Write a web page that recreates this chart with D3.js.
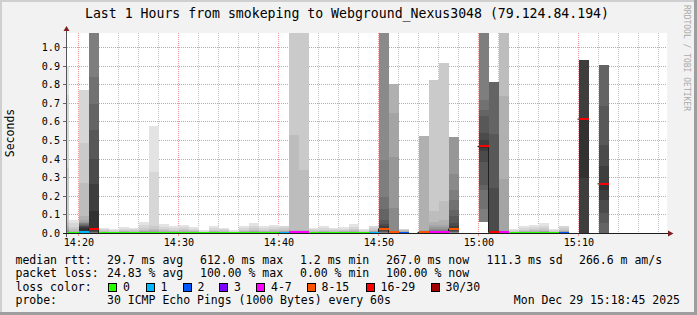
<!DOCTYPE html>
<html>
<head>
<meta charset="utf-8">
<script src="https://cdn.jsdelivr.net/npm/d3@7"></script>
<style>
    body { margin: 0; background: #f2f2f2; }
    svg { display: block; font-family: "DejaVu Sans Mono", monospace; }
</style>
</head>
<body>
<div id="chart"></div>
<script>

// graph window (last hour)
var timeStart = "2025-12-29 14:18:48";
var timeEnd = "2025-12-29 15:18:48";
var day = "2025-12-29";

// one rrd step per minute
var stepTimes = ["14:18", "14:19", "14:20", "14:21", "14:22", "14:23", "14:24", "14:25", "14:26", "14:27",
    "14:28", "14:29", "14:30", "14:31", "14:32", "14:33", "14:34", "14:35", "14:36", "14:37",
    "14:38", "14:39", "14:40", "14:41", "14:42", "14:43", "14:44", "14:45", "14:46", "14:47",
    "14:48", "14:49", "14:50", "14:51", "14:52", "14:53", "14:54", "14:55", "14:56", "14:57",
    "14:58", "14:59", "15:00", "15:01", "15:02", "15:03", "15:04", "15:05", "15:06", "15:07",
    "15:08", "15:09", "15:10", "15:11", "15:12", "15:13", "15:14", "15:15", "15:16", "15:17", "15:18"];

// lost pings out of 30 per step
var loss = [0, 0, 1, 16, 0, 0, 0, 0, 0, 0,
    0, 0, 0, 0, 0, 0, 0, 0, 0, 0,
    0, 0, 1, 4, 4, 0, 0, 0, 0, 0,
    0, 1, 14, 8, 2, 30, 8, 4, 4, 12,
    30, 30, 16, 20, 6, 0, 0, 0, 0, 0,
    2, 30, 26, 30, 20, 30, 30, 30, 30, 30, 30];

// median rtt per step (ms)
var median = [2, 2, 3, 23, 2, 2, 2, 2, 2, 2,
    2, 2, 2, 2, 2, 2, 2, 2, 2, 2,
    2, 2, 2, 3, 3, 2, 2, 2, 2, 2,
    2, 2, 23, 3, 2, null, 3, 3, 3, 22,
    null, null, 465, 3, 3, 2, 2, 2, 2, 2,
    2, null, 612, null, 264, null, null, null, null, null, null];

// received pings per step, sorted (ms); 2000 = above graph top
var pings = [
    [1, 1, 1, 1, 1, 1, 1, 1, 1, 1, 1, 1, 2, 2, 2, 2, 2, 3, 3, 4, 5, 7, 10, 15, 22, 35, 60, 350, 740, 900],
    [1, 1, 1, 1, 1, 1, 1, 1, 1, 1, 1, 2, 2, 2, 2, 2, 2, 2, 3, 3, 3, 4, 5, 6, 8, 12, 20, 34, 52, 70],
    [1, 1, 1, 1, 1, 1, 1, 2, 2, 2, 2, 2, 2, 3, 3, 25, 30, 35, 40, 45, 50, 52, 55, 58, 70, 90, 270, 483, 770],
    [1, 2, 3, 5, 8, 12, 18, 118, 264, 400, 555, 695, 840, 2000],
    [1, 1, 1, 1, 1, 1, 1, 1, 1, 1, 1, 2, 2, 2, 2, 2, 2, 2, 3, 3, 3, 4, 4, 5, 6, 8, 10, 14, 20, 27],
    [1, 1, 1, 1, 1, 1, 1, 1, 1, 1, 1, 2, 2, 2, 2, 2, 2, 2, 2, 3, 3, 3, 4, 4, 5, 6, 8, 10, 14, 20],
    [1, 1, 1, 1, 1, 1, 1, 1, 1, 1, 1, 2, 2, 2, 2, 2, 2, 2, 3, 3, 3, 4, 5, 6, 7, 9, 12, 17, 24, 32],
    [1, 1, 1, 1, 1, 1, 1, 1, 1, 1, 1, 2, 2, 2, 2, 2, 2, 2, 3, 3, 3, 4, 4, 5, 6, 8, 11, 15, 20, 27],
    [1, 1, 1, 1, 1, 1, 1, 1, 1, 1, 1, 2, 2, 2, 2, 2, 2, 2, 3, 3, 4, 5, 6, 7, 9, 12, 18, 28, 42, 60],
    [1, 1, 1, 1, 1, 1, 1, 1, 1, 1, 1, 2, 2, 2, 2, 2, 2, 2, 3, 3, 4, 5, 6, 8, 10, 14, 20, 35, 330, 576],
    [1, 1, 1, 1, 1, 1, 1, 1, 1, 1, 1, 2, 2, 2, 2, 2, 2, 2, 3, 3, 4, 4, 5, 6, 8, 11, 15, 22, 33, 48],
    [1, 1, 1, 1, 1, 1, 1, 1, 1, 1, 1, 2, 2, 2, 2, 2, 2, 2, 3, 3, 3, 4, 5, 6, 7, 9, 13, 18, 27, 38],
    [1, 1, 1, 1, 1, 1, 1, 1, 1, 1, 1, 2, 2, 2, 2, 2, 2, 2, 3, 3, 3, 4, 5, 6, 8, 10, 14, 20, 30, 43],
    [1, 1, 1, 1, 1, 1, 1, 1, 1, 1, 1, 2, 2, 2, 2, 2, 2, 2, 3, 3, 3, 4, 5, 6, 7, 9, 12, 17, 24, 32],
    [1, 1, 1, 1, 1, 1, 1, 1, 1, 1, 1, 2, 2, 2, 2, 2, 2, 2, 2, 2, 3, 3, 3, 4, 4, 5, 6, 8, 11, 16],
    [1, 1, 1, 1, 1, 1, 1, 1, 1, 1, 1, 2, 2, 2, 2, 2, 2, 2, 3, 3, 3, 4, 5, 6, 7, 9, 13, 18, 27, 38],
    [1, 1, 1, 1, 1, 1, 1, 1, 1, 1, 1, 2, 2, 2, 2, 2, 2, 2, 3, 3, 3, 4, 4, 5, 6, 8, 11, 15, 20, 27],
    [1, 1, 1, 1, 1, 1, 1, 1, 1, 1, 1, 2, 2, 2, 2, 2, 2, 2, 2, 2, 3, 3, 3, 4, 4, 5, 6, 8, 11, 16],
    [1, 1, 1, 1, 1, 1, 1, 1, 1, 1, 1, 2, 2, 2, 2, 2, 2, 2, 3, 3, 3, 4, 5, 6, 7, 9, 13, 18, 27, 38],
    [1, 1, 1, 1, 1, 1, 1, 1, 1, 1, 1, 2, 2, 2, 2, 2, 2, 2, 3, 3, 4, 5, 6, 7, 9, 12, 17, 25, 38, 54],
    [1, 1, 1, 1, 1, 1, 1, 1, 1, 1, 1, 2, 2, 2, 2, 2, 2, 2, 3, 3, 3, 4, 5, 6, 7, 9, 13, 18, 27, 38],
    [1, 1, 1, 1, 1, 1, 1, 1, 1, 1, 1, 2, 2, 2, 2, 2, 2, 2, 3, 3, 3, 4, 5, 6, 8, 10, 14, 20, 30, 43],
    [1, 1, 1, 1, 1, 1, 1, 1, 1, 1, 1, 2, 2, 2, 2, 2, 2, 3, 3, 3, 4, 5, 6, 7, 9, 13, 18, 27, 38],
    [1, 1, 1, 1, 1, 1, 2, 2, 2, 2, 2, 2, 3, 3, 4, 4, 5, 5, 6, 7, 8, 10, 12, 15, 528, 2000],
    [1, 1, 1, 1, 1, 1, 2, 2, 2, 2, 2, 2, 3, 3, 4, 4, 5, 5, 6, 7, 8, 10, 12, 15, 340, 2000],
    [1, 1, 1, 1, 1, 1, 1, 1, 1, 1, 1, 2, 2, 2, 2, 2, 2, 2, 3, 3, 3, 4, 4, 5, 6, 8, 11, 15, 20, 27],
    [1, 1, 1, 1, 1, 1, 1, 1, 1, 1, 1, 2, 2, 2, 2, 2, 2, 2, 3, 3, 3, 4, 5, 6, 7, 9, 13, 18, 27, 38],
    [1, 1, 1, 1, 1, 1, 1, 1, 1, 1, 1, 2, 2, 2, 2, 2, 2, 2, 3, 3, 3, 4, 4, 5, 6, 8, 11, 15, 20, 27],
    [1, 1, 1, 1, 1, 1, 1, 1, 1, 1, 1, 2, 2, 2, 2, 2, 2, 2, 3, 3, 3, 4, 5, 6, 7, 9, 12, 17, 24, 32],
    [1, 1, 1, 1, 1, 1, 1, 1, 1, 1, 1, 2, 2, 2, 2, 2, 2, 2, 3, 3, 4, 4, 5, 6, 8, 11, 15, 22, 33, 48],
    [1, 1, 1, 1, 1, 1, 1, 1, 1, 1, 1, 2, 2, 2, 2, 2, 2, 2, 2, 3, 3, 3, 4, 4, 5, 6, 8, 11, 15, 22],
    [1, 1, 1, 1, 1, 1, 1, 1, 1, 1, 1, 2, 2, 2, 2, 2, 2, 3, 3, 3, 4, 5, 6, 7, 9, 13, 18, 27, 38],
    [1, 2, 3, 5, 8, 12, 15, 20, 25, 35, 50, 70, 130, 196, 393, 2000],
    [1, 1, 1, 1, 1, 2, 2, 2, 2, 3, 3, 3, 4, 5, 6, 8, 10, 12, 135, 410, 646, 800],
    [1, 1, 1, 1, 1, 1, 1, 1, 1, 1, 2, 2, 2, 2, 2, 2, 2, 3, 3, 3, 4, 5, 6, 8, 11, 15, 18, 22],
    [],
    [1, 1, 1, 1, 1, 2, 2, 2, 2, 3, 3, 3, 4, 4, 5, 5, 6, 7, 8, 10, 14, 522],
    [1, 1, 1, 1, 1, 2, 2, 2, 2, 2, 2, 3, 3, 3, 4, 5, 6, 8, 10, 14, 20, 30, 45, 60, 118, 824],
    [1, 1, 1, 1, 1, 2, 2, 2, 2, 2, 2, 3, 3, 3, 4, 5, 6, 8, 10, 14, 20, 30, 45, 70, 172, 916],
    [1, 2, 3, 4, 6, 8, 10, 14, 18, 25, 35, 52, 90, 124, 178, 232, 318, 517],
    [],
    [],
    [59, 129, 232, 258, 384, 440, 455, 470, 500, 540, 630, 662, 713, 2000],
    [1, 1, 2, 2, 3, 3, 5, 242, 533, 813],
    [1, 1, 1, 1, 1, 2, 2, 2, 2, 2, 3, 3, 3, 4, 4, 5, 6, 7, 8, 10, 12, 290, 738, 2000],
    [1, 1, 1, 1, 1, 1, 1, 1, 1, 1, 1, 2, 2, 2, 2, 2, 2, 2, 2, 3, 3, 3, 4, 4, 5, 6, 8, 11, 15, 22],
    [1, 1, 1, 1, 1, 1, 1, 1, 1, 1, 1, 2, 2, 2, 2, 2, 2, 2, 3, 3, 3, 4, 5, 6, 7, 9, 13, 18, 27, 38],
    [1, 1, 1, 1, 1, 1, 1, 1, 1, 1, 1, 2, 2, 2, 2, 2, 2, 2, 3, 3, 3, 4, 5, 6, 8, 10, 14, 20, 30, 43],
    [1, 1, 1, 1, 1, 1, 1, 1, 1, 1, 1, 2, 2, 2, 2, 2, 2, 2, 3, 3, 4, 5, 6, 7, 9, 12, 17, 25, 38, 54],
    [1, 1, 1, 1, 1, 1, 1, 1, 1, 1, 1, 2, 2, 2, 2, 2, 2, 2, 2, 3, 3, 3, 4, 4, 5, 6, 8, 11, 15, 22],
    [1, 1, 1, 1, 1, 1, 1, 1, 1, 1, 2, 2, 2, 2, 2, 2, 3, 3, 3, 4, 5, 6, 7, 9, 13, 18, 27, 38],
    [],
    [2, 294, 612, 932],
    [],
    [1, 52, 108, 180, 230, 264, 360, 474, 684, 905],
    [], [], [], [], [], []
];

// axis ticks
var yTicks = [0.0, 0.1, 0.2, 0.3, 0.4, 0.5, 0.6, 0.7, 0.8, 0.9, 1.0];
var yMax = 1.075;

// loss legend
var lossLabels = ["0", "1", "2", "3", "4-7", "8-15", "16-29", "30/30"];
var lossUpper = [0, 1, 2, 3, 7, 15, 29, 30];
var lossColors = ["#26ff00", "#00b8ff", "#0059ff", "#7e00ff", "#ff00ff", "#ff5500", "#ff0000", "#a00000"];

// text
var title = "Last 1 Hours from smokeping to Webground_Nexus3048 (79.124.84.194)";
var rttLegend = ["median rtt:", "29.7 ms avg", "612.0 ms max", "1.2 ms min", "267.0 ms now", "111.3 ms sd", "266.6 m am/s"];
var lossLegend = ["packet loss:", "24.83 % avg", "100.00 % max", "0.00 % min", "100.00 % now"];
var probeLegend = ["probe:", "30 ICMP Echo Pings (1000 Bytes) every 60s"];
var stamp = "Mon Dec 29 15:18:45 2025";

var TOTAL_PINGS = 30;

// ---------------------------------------------------------------

var W = 697, H = 315;
var plot = { left: 67, right: 667, top: 33, bottom: 233 };

var parseFull = d3.timeParse("%Y-%m-%d %H:%M:%S");
var parseStep = d3.timeParse("%Y-%m-%d %H:%M");

var x = d3.scaleTime()
    .domain([parseFull(timeStart), parseFull(timeEnd)])
    .range([plot.left, plot.right]);

var y = d3.scaleLinear()
    .domain([0, yMax])
    .range([plot.bottom, plot.top])
    .clamp(true);

var svg = d3.select("#chart")
    .append("svg")
    .attr("width", W)
    .attr("height", H);

// background and shaded frame
svg.append("rect").attr("width", W).attr("height", H).attr("fill", "#f2f2f2");
svg.append("rect").attr("width", W).attr("height", 2).attr("fill", "#cfcfcf");
svg.append("rect").attr("width", 2).attr("height", H).attr("fill", "#cfcfcf");
svg.append("rect").attr("x", W - 3).attr("width", 3).attr("height", H).attr("fill", "#9e9e9e");
svg.append("rect").attr("y", H - 3).attr("width", W).attr("height", 3).attr("fill", "#9e9e9e");

// canvas
svg.append("rect")
    .attr("x", plot.left).attr("y", plot.top)
    .attr("width", plot.right - plot.left)
    .attr("height", plot.bottom - plot.top)
    .attr("fill", "#ffffff");

svg.append("clipPath").attr("id", "plotClip")
    .append("rect")
    .attr("x", plot.left).attr("y", plot.top)
    .attr("width", plot.right - plot.left)
    .attr("height", plot.bottom - plot.top);

// grid
var grid = svg.append("g").attr("stroke-dasharray", "1,1").attr("fill", "none");
var majorTimes = x.ticks(d3.timeMinute.every(10));
var minorTimes = x.ticks(d3.timeMinute.every(2)).filter(function(t) {
    return t.getMinutes() % 10 !== 0;
});

grid.selectAll(".minor").data(minorTimes).enter().append("line")
    .attr("x1", d => Math.round(x(d)) - 0.5).attr("x2", d => Math.round(x(d)) - 0.5)
    .attr("y1", plot.top).attr("y2", plot.bottom)
    .attr("stroke", "#c2c2c2");

grid.selectAll(".major").data(majorTimes).enter().append("line")
    .attr("x1", d => Math.round(x(d)) - 0.5).attr("x2", d => Math.round(x(d)) - 0.5)
    .attr("y1", plot.top).attr("y2", plot.bottom)
    .attr("stroke", "#eb9595");

grid.selectAll(".hgrid").data(yTicks.filter(d => d > 0)).enter().append("line")
    .attr("x1", plot.left).attr("x2", plot.right)
    .attr("y1", d => Math.round(y(d)) + 0.5).attr("y2", d => Math.round(y(d)) + 0.5)
    .attr("stroke", "#eb9595");

// steps
var columns = stepTimes.map(function(s, i) {
    var t0 = parseStep(day + " " + s);
    return {
        t0: t0,
        t1: d3.timeMinute.offset(t0, 1),
        loss: loss[i],
        median: median[i],
        pings: pings[i]
    };
});

// smoke: pings are centred in 30 slots, pair k spans slot k .. slot 31-k
var half = TOTAL_PINGS / 2;

function smokeGray(rank) {
    var c = Math.floor(190 / half * (half - rank)) + 50;
    return d3.rgb(c, c, c).formatHex();
}

var smoke = svg.append("g")
    .attr("clip-path", "url(#plotClip)")
    .attr("shape-rendering", "crispEdges");

columns.forEach(function(c) {
    if (!c.pings.length) return;
    var slots = new Array(TOTAL_PINGS).fill(null);
    var pad = Math.floor(c.loss / 2);
    c.pings.forEach(function(v, j) {
        slots[pad + j] = v / 1000;
    });
    for (var r = 1; r <= half; r++) {
        var lo = slots[r - 1], hi = slots[TOTAL_PINGS - r];
        if (lo === null || hi === null) continue;
        smoke.append("rect")
            .attr("x", x(c.t0))
            .attr("width", x(c.t1) - x(c.t0))
            .attr("y", y(hi))
            .attr("height", y(lo) - y(hi))
            .attr("fill", smokeGray(r));
    }
});

// median line (dark step line) plus loss coloured marks
function lossColor(l) {
    for (var k = 0; k < lossUpper.length; k++) {
        if (l <= lossUpper[k]) return lossColors[k];
    }
    return lossColors[lossColors.length - 1];
}

var medPts = [];
columns.forEach(function(c, i) {
    if (c.median === null) {
        medPts.push(null);
        return;
    }
    var ym = y(c.median / 1000);
    var prev = i > 0 ? columns[i - 1].median : null;
    medPts.push([x(c.t0) - (prev === null ? 1 : 0), ym]);
    medPts.push([x(c.t1), ym]);
});

var medLine = d3.line()
    .defined(d => d !== null)
    .x(d => d[0] - 0.5)
    .y(d => d[1]);

var medG = svg.append("g").attr("clip-path", "url(#plotClip)");

medG.append("path")
    .attr("d", medLine(medPts))
    .attr("fill", "none")
    .attr("stroke", "#202020")
    .attr("stroke-width", 1);

medG.selectAll(".med").data(columns.filter(c => c.median !== null)).enter().append("rect")
    .attr("x", d => x(d.t0))
    .attr("width", d => x(d.t1) - x(d.t0))
    .attr("y", d => y(d.median / 1000) - 1)
    .attr("height", 2)
    .attr("fill", d => lossColor(d.loss))
    .attr("shape-rendering", "crispEdges");

// axes
var axes = svg.append("g").attr("shape-rendering", "crispEdges");

axes.selectAll(".ytick").data(yTicks).enter().append("line")
    .attr("x1", plot.left - 4).attr("x2", plot.left)
    .attr("y1", d => Math.round(y(d)) + 0.5).attr("y2", d => Math.round(y(d)) + 0.5)
    .attr("stroke", "#666");

axes.selectAll(".xtick").data(majorTimes).enter().append("line")
    .attr("x1", d => Math.round(x(d)) - 0.5).attr("x2", d => Math.round(x(d)) - 0.5)
    .attr("y1", plot.bottom).attr("y2", plot.bottom + 3)
    .attr("stroke", "#eb9595");

axes.append("line")
    .attr("x1", plot.left - 0.5).attr("x2", plot.left - 0.5)
    .attr("y1", plot.bottom + 4).attr("y2", plot.top - 3)
    .attr("stroke", "#555");

axes.append("line")
    .attr("x1", plot.left - 4).attr("x2", plot.right + 2)
    .attr("y1", plot.bottom + 0.5).attr("y2", plot.bottom + 0.5)
    .attr("stroke", "#1f1f1f");

svg.append("path")
    .attr("d", "M" + (plot.left - 3.5) + "," + (plot.top - 2) + "L" + (plot.left + 2.5) + "," + (plot.top - 2) +
        "L" + (plot.left - 0.5) + "," + (plot.top - 7) + "Z")
    .attr("fill", "#801f1f");

svg.append("path")
    .attr("d", "M" + (plot.right + 1) + "," + (plot.bottom - 2.5) + "L" + (plot.right + 1) + "," + (plot.bottom + 3.5) +
        "L" + (plot.right + 6.5) + "," + (plot.bottom + 0.5) + "Z")
    .attr("fill", "#801f1f");

// tick labels
svg.selectAll(".ylab").data(yTicks).enter().append("text")
    .attr("x", 60)
    .attr("y", d => Math.round(y(d)) + 4)
    .attr("text-anchor", "end")
    .style("font-size", "10.1px")
    .text(d3.format(".1f"));

svg.selectAll(".xlab").data(majorTimes).enter().append("text")
    .attr("x", d => x(d))
    .attr("y", 246)
    .attr("text-anchor", "middle")
    .style("font-size", "10.1px")
    .text(d3.timeFormat("%H:%M"));

// title, unit and watermark
svg.append("text")
    .attr("x", 347).attr("y", 18.3)
    .attr("text-anchor", "middle")
    .style("font-size", "13.2px")
    .text(title);

svg.append("text")
    .attr("transform", "translate(14,133) rotate(-90)")
    .attr("text-anchor", "middle")
    .style("font-size", "11.5px")
    .text("Seconds");

svg.append("text")
    .attr("transform", "translate(683.5,5) rotate(90)")
    .style("font-size", "8px")
    .attr("fill", "#aaaaaa")
    .text("RRDTOOL / TOBI OETIKER");

// legend
var colX = [15.5, 107, 200, 300, 386, 486.5, 579];
var legend = svg.append("g").style("font-size", "11.5px");

function legendRow(items, yPos) {
    legend.selectAll(null).data(items).enter().append("text")
        .attr("x", (d, i) => colX[i])
        .attr("y", yPos)
        .style("white-space", "pre")
        .text(d => d);
}

legendRow(rttLegend, 263.5);
legendRow(lossLegend, 277);
legendRow(probeLegend, 304);

legend.append("text").attr("x", colX[0]).attr("y", 290.5).text("loss color:");

var swatchX = [108, 145.5, 182.5, 219, 256, 306.5, 365.5, 430.5];
var sw = legend.selectAll(".sw").data(lossLabels).enter().append("g");
sw.append("rect")
    .attr("x", (d, i) => swatchX[i] + 0.5)
    .attr("y", 283.5)
    .attr("width", 8).attr("height", 8)
    .attr("fill", (d, i) => lossColors[i])
    .attr("stroke", "#000")
    .attr("shape-rendering", "crispEdges");
sw.append("text")
    .attr("x", (d, i) => swatchX[i] + 15)
    .attr("y", 290.5)
    .text(d => d);

legend.append("text")
    .attr("x", 680).attr("y", 304)
    .attr("text-anchor", "end")
    .text(stamp);

</script>
</body>
</html>
